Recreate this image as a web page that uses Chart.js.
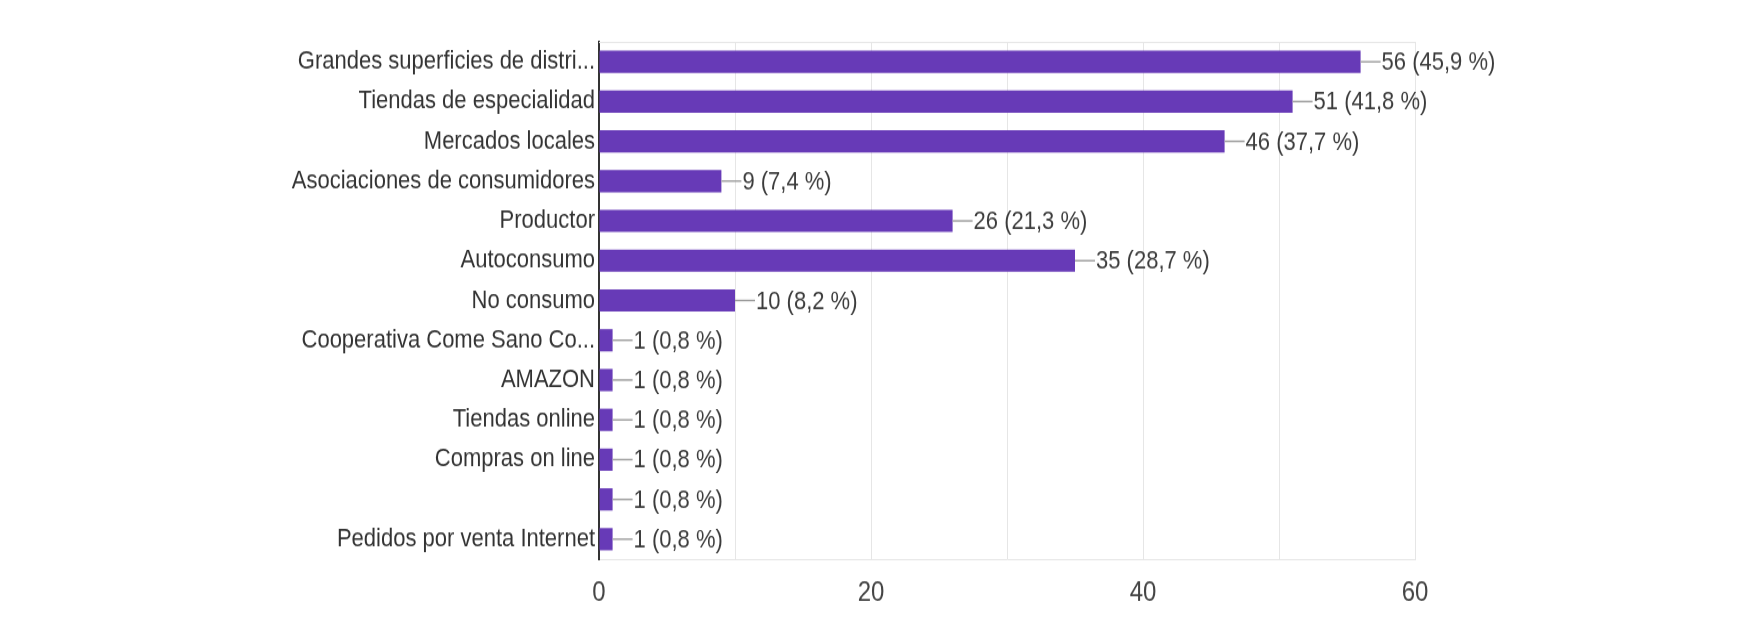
<!DOCTYPE html>
<html>
<head>
<meta charset="utf-8">
<script src="https://cdn.jsdelivr.net/npm/chart.js@4/dist/chart.umd.min.js"></script>
<style>
  html, body { margin: 0; padding: 0; background: #fff; }
  #page { width: 1756px; height: 623px; position: relative; overflow: hidden; }
  /* the reference is a vertically stretched screenshot, so draw at 536px high and stretch */
  #wrap { position: absolute; left: 0; top: 0; width: 1756px; height: 536px; transform: scaleY(1.1623); transform-origin: 0 0; }
  #canvas { display: block; }
</style>
</head>
<body>
<div id="page"><div id="wrap"><canvas id="canvas" width="1756" height="536"></canvas></div></div>
<script>
// data
const categories = [
  "Grandes superficies de distri...",
  "Tiendas de especialidad",
  "Mercados locales",
  "Asociaciones de consumidores",
  "Productor",
  "Autoconsumo",
  "No consumo",
  "Cooperativa Come Sano Co...",
  "AMAZON",
  "Tiendas online",
  "Compras on line",
  "",
  "Pedidos por venta Internet"
];
const counts = [56, 51, 46, 9, 26, 35, 10, 1, 1, 1, 1, 1, 1];
const percents = ["45,9", "41,8", "37,7", "7,4", "21,3", "28,7", "8,2", "0,8", "0,8", "0,8", "0,8", "0,8", "0,8"];
const xTicks = [0, 20, 40, 60];

const FONT = "'Liberation Sans', Arial, sans-serif";

// connector line + "n (p %)" after every bar
const barLabels = {
  id: 'barLabels',
  afterDatasetsDraw(chart) {
    const c = chart.ctx;
    const area = chart.chartArea;
    // light top border of the plot
    c.save();
    c.strokeStyle = '#e6e6e6';
    c.lineWidth = 1;
    c.beginPath();
    c.moveTo(area.left, area.top + 0.5);
    c.lineTo(area.right, area.top + 0.5);
    c.stroke();

    const meta = chart.getDatasetMeta(0);
    c.font = "22px " + FONT;
    c.textBaseline = 'middle';
    c.textAlign = 'left';
    meta.data.forEach((bar, i) => {
      c.strokeStyle = '#9a9a9a';
      c.lineWidth = 1.4;
      c.beginPath();
      c.moveTo(bar.x, bar.y);
      c.lineTo(bar.x + 20, bar.y);
      c.stroke();
      c.fillStyle = '#3c3c3c';
      c.fillText(counts[i] + " (" + percents[i] + " %)", bar.x + 21, bar.y + 1);
    });
    c.restore();
  }
};

const ctx = document.getElementById('canvas');
const myChart = new Chart(ctx, {
  type: 'bar',
  data: {
    labels: categories,
    datasets: [{
      data: counts,
      backgroundColor: "#673ab7",
      borderWidth: 0,
      barPercentage: 0.56,
      categoryPercentage: 1
    }]
  },
  options: {
    indexAxis: 'y',
    responsive: false,
    devicePixelRatio: 1,
    animation: false,
    layout: {
      padding: { left: 0, right: 341, top: 36, bottom: 0 }
    },
    plugins: {
      legend: { display: false },
      tooltip: { enabled: false }
    },
    scales: {
      x: {
        min: 0,
        max: 60,
        afterFit: (scale) => { scale.height = 55; },
        afterBuildTicks: (scale) => {
          scale.ticks = [0, 10, 20, 30, 40, 50, 60].map(v => ({ value: v }));
        },
        ticks: {
          autoSkip: false,
          maxRotation: 0,
          padding: 15,
          color: '#444',
          font: { family: FONT, size: 24 },
          callback: (v) => xTicks.includes(v) ? String(v) : ''
        },
        grid: {
          color: '#e6e6e6',
          lineWidth: 1,
          drawTicks: false
        },
        border: { display: true, color: '#e6e6e6', width: 1 }
      },
      y: {
        afterFit: (scale) => { scale.width = 599; },
        ticks: {
          autoSkip: false,
          padding: 4,
          color: '#333',
          font: { family: FONT, size: 22 }
        },
        grid: { display: false, drawTicks: false },
        border: { display: true, color: '#333', width: 2 }
      }
    }
  },
  plugins: [barLabels]
});
</script>
</body>
</html>
